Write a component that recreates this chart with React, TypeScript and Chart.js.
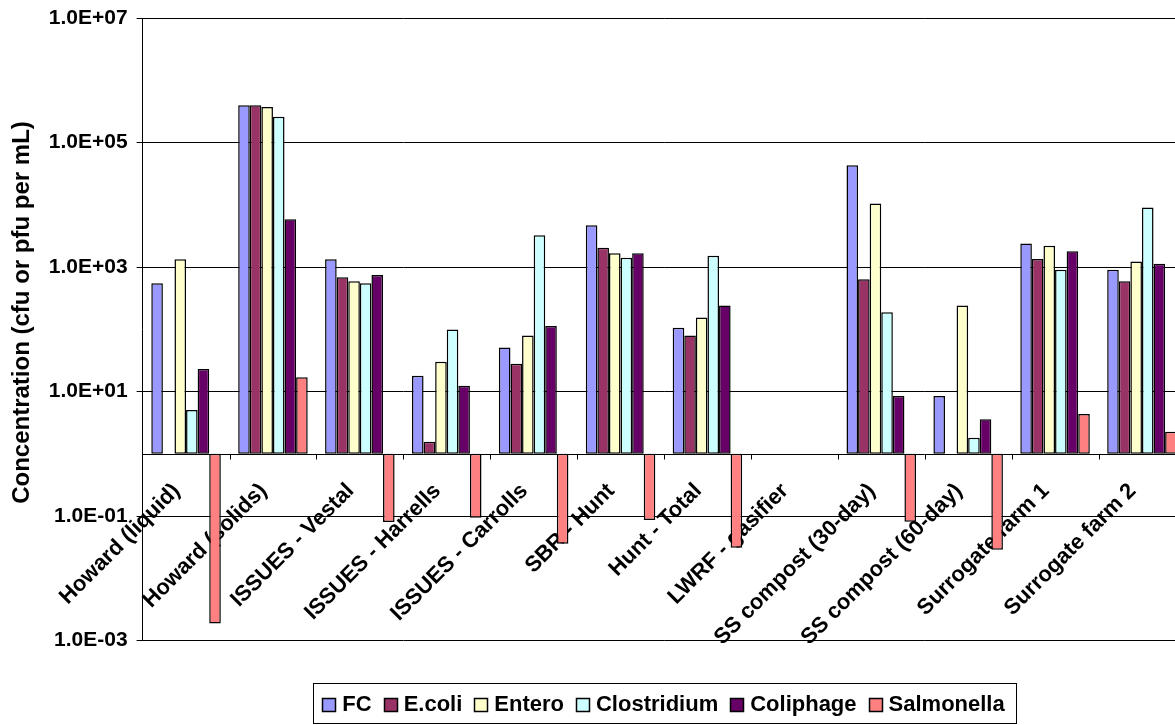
import { useEffect, useRef } from 'react';
import { Chart, registerables } from 'chart.js';

Chart.register(...registerables);

// Sampling sites along the category axis
const categories = [
  'Howard (liquid)',
  'Howard (solids)',
  'ISSUES - Vestal',
  'ISSUES - Harrells',
  'ISSUES - Carrolls',
  'SBR - Hunt',
  'Hunt - Total',
  'LWRF - gasifier',
  'SS compost (30-day)',
  'SS compost (60-day)',
  'Surrogate farm 1',
  'Surrogate farm 2',
];

// Concentrations (cfu or pfu per mL); null = not measured
const fc = [546, 395000, 1330, 17.9, 50.7, 4700, 106, null, 43000, 8.5, 2380, 905];
const ecoli = [null, 395000, 682, 1.56, 28, 2040, 79, null, 635, null, 1340, 590];
const entero = [1330, 372000, 588, 30.1, 79, 1660, 154, null, 10500, 240, 2200, 1220];
const clostridium = [5.06, 260000, 546, 98.9, 3250, 1410, 1520, null, 188, 1.81, 905, 9060];
const coliphage = [22.9, 5870, 745, 12.4, 113, 1660, 240, null, 8.5, 3.57, 1790, 1125];
const salmonella = [0.00187, 17.0, 0.08, 0.094, 0.0357, 0.086, 0.031, null, 0.0807, 0.0286, 4.37, 2.26];

const seriesNames = ['FC', 'E.coli', 'Entero', 'Clostridium', 'Coliphage', 'Salmonella'];
const seriesValues = [fc, ecoli, entero, clostridium, coliphage, salmonella];
const seriesColors = ['#9999FF', '#993366', '#FFFFCC', '#CCFFFF', '#660066', '#FF8080'];

// Value axis: logarithmic, labelled every two decades
const yTickValues = [1e-3, 1e-1, 1e1, 1e3, 1e5, 1e7];
const yTitle = 'Concentration (cfu or pfu per mL)';
const BASE_VALUE = 1; // bars grow up or down from 1.0E+00

const FONT = "'Liberation Sans', Arial, Helvetica, sans-serif";

function sci(v: number): string {
  const e = Math.round(Math.log10(v));
  const m = v / Math.pow(10, e);
  const sign = e < 0 ? '-' : '+';
  return `${m.toFixed(1)}E${sign}${String(Math.abs(e)).padStart(2, '0')}`;
}

const overlayPlugin = {
  id: 'siteOverlay',
  beforeDatasetsDraw(chart: any) {
    const { ctx } = chart;
    const x = chart.scales.x;
    const y = chart.scales.y;
    const y0 = y.getPixelForValue(BASE_VALUE);
    ctx.save();
    ctx.font = `bold 22px ${FONT}`;
    ctx.fillStyle = '#000';
    ctx.textAlign = 'right';
    ctx.textBaseline = 'alphabetic';
    categories.forEach((label, i) => {
      const cx = x.getPixelForValue(i);
      ctx.save();
      ctx.translate(cx - 5, y0 + 38);
      ctx.rotate(-Math.PI / 4);
      ctx.fillText(label, 0, 0);
      ctx.restore();
    });
    ctx.restore();
  },
  afterDatasetsDraw(chart: any) {
    const { ctx, chartArea } = chart;
    const x = chart.scales.x;
    const y = chart.scales.y;
    const y0 = Math.round(y.getPixelForValue(BASE_VALUE)) + 0.5;
    const step = (chartArea.right - chartArea.left) / categories.length;
    ctx.save();
    ctx.strokeStyle = '#000';
    ctx.lineWidth = 1;
    ctx.beginPath();
    ctx.moveTo(chartArea.left, y0);
    ctx.lineTo(chartArea.right, y0);
    for (let i = 1; i <= categories.length; i++) {
      const bx = Math.round(x.getPixelForValue(i) - step / 2) + 0.5;
      ctx.moveTo(bx, y0);
      ctx.lineTo(bx, y0 + 5);
    }
    ctx.stroke();
    ctx.restore();
  },
  afterDraw(chart: any) {
    const { ctx } = chart;
    ctx.save();
    // value axis title
    ctx.font = `bold 24px ${FONT}`;
    ctx.fillStyle = '#000';
    ctx.textAlign = 'center';
    ctx.textBaseline = 'middle';
    ctx.translate(22, 312.5);
    ctx.rotate(-Math.PI / 2);
    ctx.fillText(yTitle, 0, 0);
    ctx.restore();

    // legend
    ctx.save();
    ctx.font = `bold 22px ${FONT}`;
    ctx.textBaseline = 'middle';
    ctx.textAlign = 'left';
    const box = 13;
    const gapText = 7;
    const gapItem = 12;
    const widths = seriesNames.map((n) => ctx.measureText(n).width);
    const total = widths.reduce((a, w) => a + box + gapText + w, 0) + gapItem * (seriesNames.length - 1);
    const centerX = 663.5;
    const midY = 704.5;
    let lx = centerX - total / 2;
    ctx.strokeStyle = '#000';
    ctx.lineWidth = 1;
    ctx.strokeRect(Math.round(lx - 9) + 0.5, 683.5, Math.round(total + 21), 40);
    seriesNames.forEach((name, i) => {
      ctx.fillStyle = seriesColors[i];
      const bx = Math.round(lx) + 0.5;
      const by = Math.round(midY - box / 2) + 0.5;
      ctx.fillRect(bx, by, box, box);
      ctx.strokeStyle = '#000';
      ctx.lineWidth = 1.5;
      ctx.strokeRect(bx, by, box, box);
      ctx.fillStyle = '#000';
      ctx.fillText(name, lx + box + gapText, midY);
      lx += box + gapText + widths[i] + gapItem;
    });
    ctx.restore();
  },
};

export default function App() {
  const canvasRef = useRef<HTMLCanvasElement | null>(null);

  useEffect(() => {
    const canvas = canvasRef.current;
    if (!canvas) return;
    const chart = new Chart(canvas, {
      type: 'bar',
      data: {
        labels: categories,
        datasets: seriesNames.map((name, i) => ({
          label: name,
          data: seriesValues[i].map((v) => (v == null ? null : [BASE_VALUE, v])) as any,
          backgroundColor: seriesColors[i],
          borderColor: '#000',
          borderWidth: 1.5,
          borderSkipped: false,
          categoryPercentage: 0.8,
          barPercentage: 1.0,
        })),
      },
      options: {
        responsive: false,
        animation: false,
        devicePixelRatio: 1,
        layout: { padding: { top: 18, bottom: 84.5, left: 0, right: 14.6 } },
        plugins: {
          legend: { display: false },
          tooltip: { enabled: false },
        },
        scales: {
          x: {
            type: 'category',
            display: false,
            offset: true,
            grid: { display: false },
          },
          y: {
            type: 'logarithmic',
            min: 1e-3,
            max: 1e7,
            afterBuildTicks: (scale: any) => {
              scale.ticks = yTickValues.map((v) => ({ value: v }));
            },
            afterFit: (scale: any) => {
              scale.width = 142.6;
              scale.paddingTop = 0;
              scale.paddingBottom = 0;
            },
            ticks: {
              autoSkip: false,
              padding: 9,
              color: '#000',
              font: { family: FONT, size: 21, weight: 'bold' },
              callback: (v: any) => sci(Number(v)),
            },
            grid: {
              color: '#000',
              lineWidth: 1,
              drawTicks: true,
              tickLength: 6,
              tickColor: '#000',
            },
            border: { display: true, color: '#000', width: 1 },
          },
        },
      } as any,
      plugins: [overlayPlugin],
    });
    return () => chart.destroy();
  }, []);

  return (
    <div
      style={{
        position: 'fixed',
        left: 0,
        top: 0,
        width: 1175,
        height: 725,
        overflow: 'hidden',
        background: '#fff',
      }}
    >
      <canvas ref={canvasRef} width={1200} height={725} style={{ display: 'block' }} />
    </div>
  );
}
